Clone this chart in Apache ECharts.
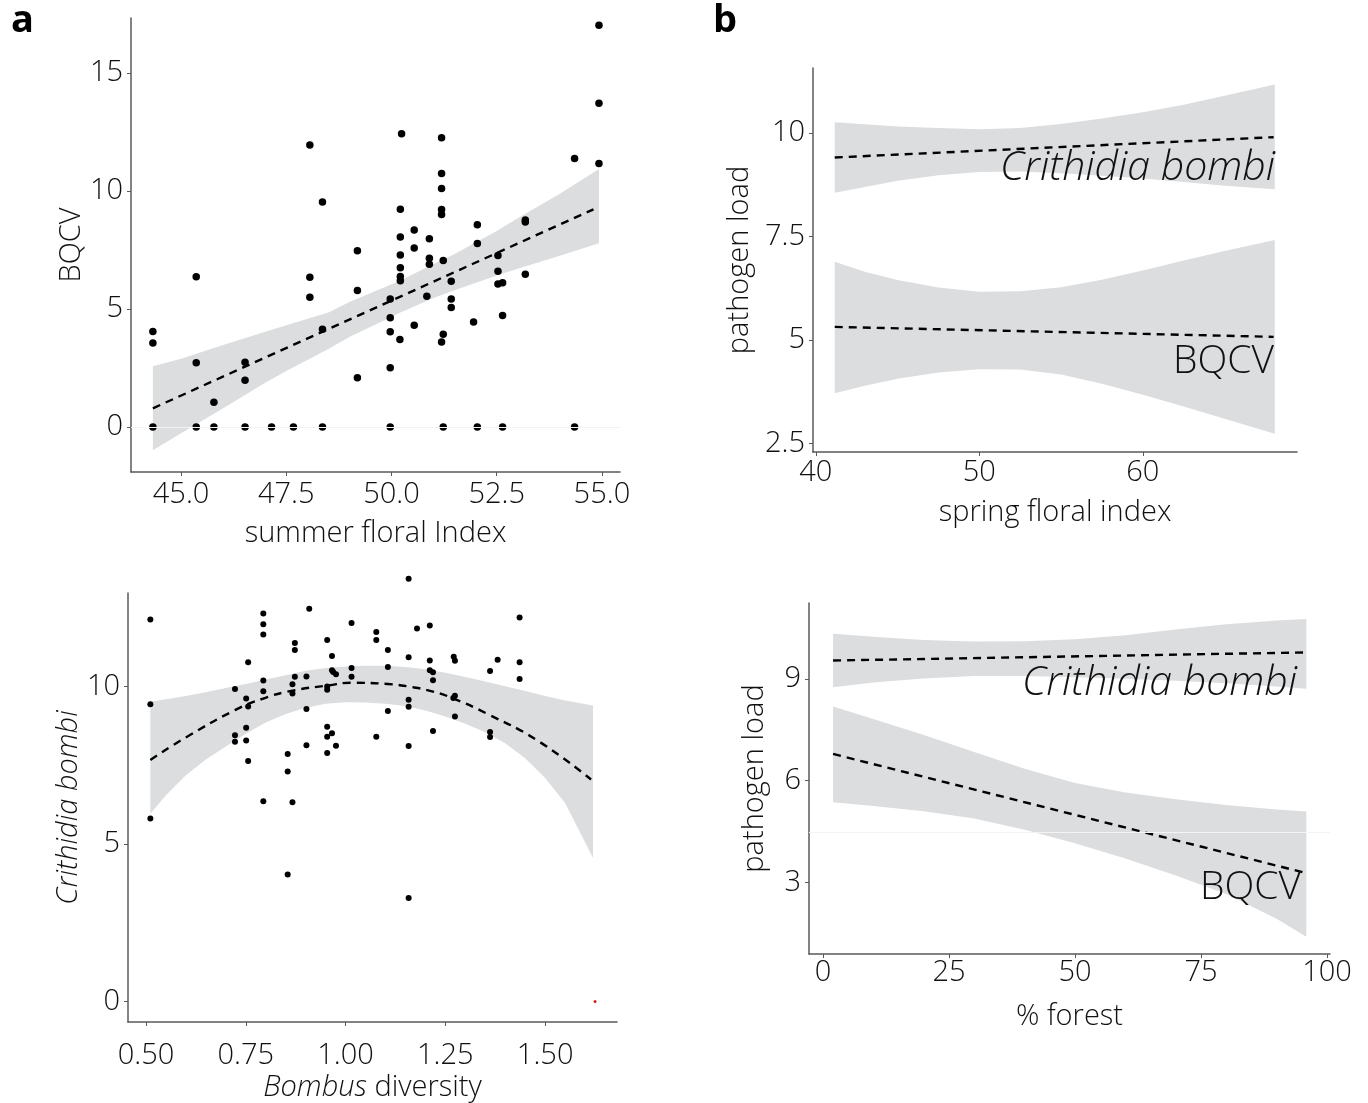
<!DOCTYPE html>
<html><head><meta charset="utf-8">
<script src="https://cdn.jsdelivr.net/npm/echarts@6/dist/echarts.min.js"></script>
<style>html,body{margin:0;padding:0;background:#fff}#c{width:1368px;height:1103px}</style>
</head><body><div id="c"></div>
<script>
// ---------- Panel a (top): BQCV vs summer floral index ----------
const summerX = [54.93,54.93,54.93,54.35,48.06,48.36,50.24,51.19,51.19,51.19,51.19,51.19,50.21,50.54,50.90,50.21,50.54,49.19,52.04,52.04,53.18,53.18,50.21,50.90,50.90,51.23,50.21,50.21,50.21,52.53,52.53,52.53,52.64,53.18,45.36,48.06,48.06,49.19,51.42,51.42,50.84,49.97,51.42,
  49.97,52.64,51.95,50.54,48.36,44.33,44.33,49.97,50.20,51.23,51.19,45.36,46.52,46.52,45.78,49.97,49.19,
  44.33,45.36,45.78,46.52,47.15,47.67,48.36,49.97,51.23,52.04,52.64,54.35];
const bqcvY = [17.02,13.72,11.16,11.38,11.95,9.53,12.42,12.25,10.74,10.10,9.21,9.00,9.22,8.35,7.98,8.05,7.58,7.47,8.57,7.77,8.77,8.69,7.29,7.15,6.89,7.05,6.75,6.37,6.19,7.26,6.60,6.06,6.11,6.47,6.36,6.34,5.50,5.78,6.17,5.42,5.54,5.42,5.06,
  4.63,4.72,4.45,4.31,4.14,4.04,3.56,4.03,3.70,3.93,3.60,2.72,2.74,1.98,1.05,2.51,2.08,
  0,0,0,0,0,0,0,0,0,0,0,0];
const aFitX = [44.33, 54.8];
const aFitY = [0.79, 9.22];
const aBandX  = [44.33, 45.0, 46.0, 47.0, 47.5, 48.5, 49.0, 50.2, 51.0, 51.5, 52.5, 53.0, 54.0, 54.93];
const aBandLo = [-0.99, -0.27, 0.79, 1.87, 2.37, 3.30, 3.81, 4.84, 5.46, 5.79, 6.42, 6.70, 7.25, 7.78];
const aBandHi = [2.57, 2.89, 3.47, 4.03, 4.31, 4.85, 5.29, 6.20, 6.90, 7.33, 8.30, 8.84, 9.88, 10.93];
const aTicksX = [45.0, 47.5, 50.0, 52.5, 55.0];
const aTicksY = [0, 5, 10, 15];

// ---------- Panel a (bottom): Crithidia bombi vs Bombus diversity ----------
const divX = [0.511,0.511,0.511,1.158,0.909,0.794,0.794,0.794,1.015,1.436,1.077,1.077,1.179,1.211,0.873,0.873,0.954,1.106,0.966,1.158,1.211,1.271,1.274,1.381,1.436,0.756,1.106,1.015,0.966,0.969,0.976,1.211,1.219,1.362,1.436,0.873,0.902,1.015,1.219,0.794,0.867,0.723,0.954,0.954,0.794,0.867,0.751,1.274,1.270,1.158,1.158,0.756,0.902,1.106,1.274,0.751,0.954,0.966,0.954,1.219,1.362,1.362,0.723,0.723,0.751,1.077,0.902,0.976,1.158,0.954,0.855,0.756,0.855,0.794,0.867,0.855,1.158];
const critY = [12.13,9.44,5.81,13.42,12.47,12.32,11.98,11.65,12.02,12.19,11.73,11.48,11.84,11.94,11.38,11.16,11.48,11.16,10.97,10.93,10.83,10.95,10.82,10.85,10.77,10.77,10.62,10.59,10.52,10.46,10.39,10.52,10.45,10.49,10.24,10.31,10.32,10.31,10.20,10.19,10.07,9.92,10.0,9.90,9.85,9.78,9.62,9.71,9.64,9.58,9.36,9.37,9.29,9.22,9.05,8.69,8.72,8.52,8.41,8.59,8.56,8.40,8.45,8.25,8.29,8.41,8.14,8.12,8.11,7.89,7.86,7.64,7.30,6.36,6.33,4.03,3.29];
const redX = [1.625];
const redY = [0];
const bFitX = [0.511, 0.602, 0.723, 0.794, 0.867, 0.954, 1.015, 1.106, 1.158, 1.219, 1.274, 1.354, 1.479, 1.615];
const bFitY = [7.67, 8.40, 9.25, 9.62, 9.87, 10.03, 10.12, 10.08, 10.0, 9.84, 9.60, 9.14, 8.30, 7.05];
const bBandX  = [0.511, 0.55, 0.60, 0.65, 0.70, 0.75, 0.80, 0.85, 0.90, 0.95, 1.00, 1.05, 1.10, 1.15, 1.20, 1.25, 1.30, 1.35, 1.40, 1.45, 1.50, 1.55, 1.62];
const bBandLo = [5.96, 6.55, 7.18, 7.68, 8.10, 8.50, 8.86, 9.13, 9.33, 9.45, 9.50, 9.49, 9.45, 9.38, 9.24, 9.05, 8.82, 8.55, 8.20, 7.72, 7.10, 6.30, 4.56];
const bBandHi = [9.52, 9.60, 9.70, 9.82, 9.95, 10.08, 10.22, 10.36, 10.50, 10.59, 10.64, 10.66, 10.66, 10.62, 10.55, 10.44, 10.30, 10.16, 10.01, 9.86, 9.70, 9.56, 9.40];
const bTicksX = [0.50, 0.75, 1.00, 1.25, 1.50];
const bTicksY = [0, 5, 10];

// ---------- Panel b (top): pathogen load vs spring floral index ----------
const cCritX = [41.16, 68.0];
const cCritY = [9.41, 9.90];
const cBqcvX = [41.16, 68.0];
const cBqcvY = [5.32, 5.08];
const cBandX  = [41.16, 43.0, 45.0, 47.5, 50.0, 52.5, 55.0, 57.5, 60.0, 62.5, 65.0, 68.07];
const cCritLo = [8.56, 8.70, 8.85, 8.98, 9.06, 9.07, 9.03, 8.97, 8.90, 8.82, 8.73, 8.64];
const cCritHi = [10.26, 10.21, 10.16, 10.12, 10.09, 10.12, 10.22, 10.35, 10.50, 10.68, 10.90, 11.17];
const cBqcvLo = [3.72, 3.90, 4.07, 4.22, 4.30, 4.29, 4.17, 3.95, 3.68, 3.40, 3.10, 2.74];
const cBqcvHi = [6.89, 6.65, 6.45, 6.27, 6.17, 6.18, 6.28, 6.46, 6.68, 6.92, 7.15, 7.42];
const cTicksX = [40, 50, 60];
const cTicksY = [2.5, 5, 7.5, 10];

// ---------- Panel b (bottom): pathogen load vs % forest ----------
const dCritX = [2.0, 95.9];
const dCritY = [9.55, 9.79];
const dBqcvX = [2.0, 95.9];
const dBqcvY = [6.79, 3.27];
const dBandX  = [2.0, 10, 20, 30, 40, 50, 60, 70, 80, 90, 95.9];
const dCritLo = [8.76, 8.90, 9.02, 9.09, 9.09, 9.06, 9.01, 8.95, 8.88, 8.78, 8.72];
const dCritHi = [10.34, 10.25, 10.16, 10.11, 10.12, 10.18, 10.30, 10.47, 10.62, 10.73, 10.78];
const dBqcvLo = [5.36, 5.25, 5.10, 4.88, 4.55, 4.15, 3.70, 3.20, 2.65, 1.92, 1.39];
const dBqcvHi = [8.19, 7.82, 7.35, 6.85, 6.35, 5.93, 5.65, 5.45, 5.28, 5.15, 5.09];
const dTicksX = [0, 25, 50, 75, 100];
const dTicksY = [3, 6, 9];

// ---------- styling ----------
const FONT = '"Open Sans", "DejaVu Sans", sans-serif';
const BAND = '#dcdddf';
const AXC = '#5a5a5a';
const TXT = '#111';
const FW = 300;

function zip(xs, ys){ return xs.map((x,i)=>[x, ys[i]]); }

function band(idx, xs, lo, hi){
  return {
    type:'custom', xAxisIndex:idx, yAxisIndex:idx, silent:true, z:1,
    data:[[xs[0], lo[0]]],
    renderItem:function(params, api){
      const pts=[];
      for(let k=0;k<xs.length;k++) pts.push(api.coord([xs[k], hi[k]]));
      for(let k=xs.length-1;k>=0;k--) pts.push(api.coord([xs[k], lo[k]]));
      return {type:'polygon', shape:{points:pts}, style:{fill:BAND}};
    }
  };
}
function dashed(idx, xs, ys, smooth){
  return {type:'line', xAxisIndex:idx, yAxisIndex:idx, data:zip(xs,ys), symbol:'none', smooth:!!smooth, silent:true, z:3,
    lineStyle:{color:'#000', width:2.4, type:[8,6]}};
}
function xAx(idx, min, max, ticks, name, gap, fmt, margin, rich){
  const o = {type:'value', gridIndex:idx, min:min, max:max, splitLine:{show:false},
    axisLine:{show:true, onZero:false, lineStyle:{color:AXC, width:1.5}},
    axisTick:{show:true, length:4, lineStyle:{color:AXC}, customValues:ticks},
    axisLabel:{color:TXT, fontFamily:FONT, fontWeight:FW, fontSize:29, margin:margin, customValues:ticks, formatter:fmt, showMinLabel:true, showMaxLabel:true},
    name:name, nameLocation:'middle', nameGap:gap,
    nameTextStyle:{color:TXT, fontFamily:FONT, fontWeight:FW, fontSize:29}};
  if(rich) o.nameTextStyle.rich = rich;
  return o;
}
function yAx(idx, min, max, ticks, name, gap, fmt, italic){
  return {type:'value', gridIndex:idx, min:min, max:max, splitLine:{show:false},
    axisLine:{show:true, onZero:false, lineStyle:{color:AXC, width:1.5}},
    axisTick:{show:true, length:4, lineStyle:{color:AXC}, customValues:ticks},
    axisLabel:{color:TXT, fontFamily:FONT, fontWeight:FW, fontSize:29, margin:8, customValues:ticks, formatter:fmt, showMinLabel:true, showMaxLabel:true},
    name:name, nameLocation:'middle', nameGap:gap, nameRotate:90,
    nameTextStyle:{color:TXT, fontFamily:FONT, fontWeight:FW, fontSize:29, fontStyle: italic?'italic':'normal'}};
}

const f1 = v => v.toFixed(1);
const f2 = v => v.toFixed(2);
const f0 = v => String(v);

const chart = echarts.init(document.getElementById('c'), null, {renderer:'canvas'});
chart.setOption({
  animation:false,
  backgroundColor:'#fff',
  grid:[
    {left:131, top:18, width:489, height:454},
    {left:128, top:593, width:489, height:432},
    {left:813, top:68, width:484, height:384},
    {left:809, top:603, width:521, height:351}
  ],
  xAxis:[
    xAx(0, 43.81, 55.43, aTicksX, 'summer floral Index', 47, f1, 8),
    xAx(1, 0.455, 1.68, bTicksX, '{i|Bombus} diversity', 51, f2, 19,
        {i:{fontStyle:'italic', fontFamily:FONT, fontWeight:FW, fontSize:29, color:TXT}}),
    xAx(2, 39.83, 69.43, cTicksX, 'spring floral index', 46, f0, 6),
    xAx(3, -2.78, 100.6, dTicksX, '% forest', 48, f0, 4)
  ],
  yAxis:[
    yAx(0, -1.91, 17.33, aTicksY, 'BQCV', 45, f0),
    yAx(1, -0.65, 12.97, bTicksY, 'Crithidia bombi', 41, f0, true),
    yAx(2, 2.3, 11.57, cTicksY, 'pathogen load', 59, f0),
    yAx(3, 0.88, 11.25, dTicksY, 'pathogen load', 40, f0)
  ],
  series:[
    band(0, aBandX, aBandLo, aBandHi),
    {type:'scatter', xAxisIndex:0, yAxisIndex:0, data:[[aFitX[0],0]], symbolSize:0, silent:true, z:0,
      markLine:{silent:true, symbol:'none', label:{show:false}, lineStyle:{color:'#f2f2f2', width:1, type:'solid'}, data:[{yAxis:0}]}},
    dashed(0, aFitX, aFitY),
    {type:'scatter', xAxisIndex:0, yAxisIndex:0, data:zip(summerX,bqcvY), symbolSize:7.5, itemStyle:{color:'#000', opacity:1}, z:4},

    band(1, bBandX, bBandLo, bBandHi),
    dashed(1, bFitX, bFitY, true),
    {type:'scatter', xAxisIndex:1, yAxisIndex:1, data:zip(divX,critY), symbolSize:6, itemStyle:{color:'#000', opacity:1}, z:4, clip:false},
    {type:'scatter', xAxisIndex:1, yAxisIndex:1, data:zip(redX,redY), symbolSize:3, itemStyle:{color:'#d62020', opacity:1}, z:4, clip:false},

    band(2, cBandX, cCritLo, cCritHi),
    band(2, cBandX, cBqcvLo, cBqcvHi),
    dashed(2, cCritX, cCritY),
    dashed(2, cBqcvX, cBqcvY),

    band(3, dBandX, dCritLo, dCritHi),
    band(3, dBandX, dBqcvLo, dBqcvHi),
    {type:'scatter', xAxisIndex:3, yAxisIndex:3, data:[[dBandX[0],4.48]], symbolSize:0, silent:true, z:0,
      markLine:{silent:true, symbol:'none', label:{show:false}, lineStyle:{color:'#f4f4f4', width:1, type:'solid'}, data:[{yAxis:4.48}]}},
    dashed(3, dCritX, dCritY),
    dashed(3, dBqcvX, dBqcvY)
  ],
  graphic:[
    {type:'text', left:11, top:2, style:{text:'a', font:'bold 38px "Open Sans", sans-serif', fill:'#000'}},
    {type:'text', left:713, top:2, style:{text:'b', font:'bold 38px "Open Sans", sans-serif', fill:'#000'}},
    {type:'text', x:1275, y:168, z:10, style:{text:'Crithidia bombi', font:'italic 300 41px "Open Sans", sans-serif', fill:'#111', align:'right', verticalAlign:'middle'}},
    {type:'text', x:1274, y:362, z:10, style:{text:'BQCV', font:'300 39px "Open Sans", sans-serif', fill:'#111', align:'right', verticalAlign:'middle'}},
    {type:'text', x:1297, y:683, z:10, style:{text:'Crithidia bombi', font:'italic 300 41px "Open Sans", sans-serif', fill:'#111', align:'right', verticalAlign:'middle'}},
    {type:'text', x:1301, y:888, z:10, style:{text:'BQCV', font:'300 39px "Open Sans", sans-serif', fill:'#111', align:'right', verticalAlign:'middle'}}
  ]
});
</script>
</body></html>
